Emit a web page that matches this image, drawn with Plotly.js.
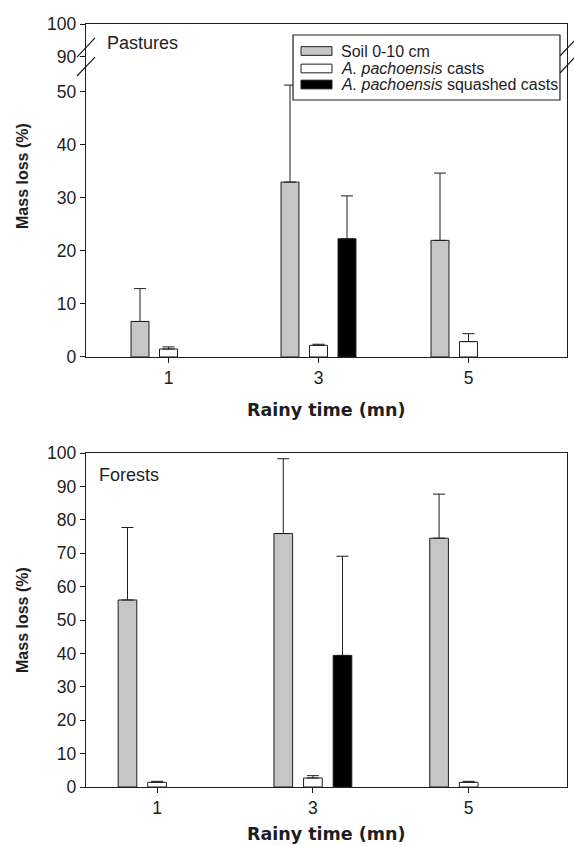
<!DOCTYPE html>
<html>
<head>
<meta charset="utf-8">
<script src="https://cdn.plot.ly/plotly-3.0.1.min.js"></script>
<style>html,body{margin:0;padding:0;background:#fff;}#chart{width:574px;height:846px;}</style>
</head>
<body>
<div id="chart"></div>
<script>
// ---- data ----
const categories = ['1', '3', '5'];
const seriesNames = ['Soil 0-10 cm', '<i>A. pachoensis</i> casts', '<i>A. pachoensis</i> squashed casts'];

// Pastures (top panel)
const pastSoil = [6.7, 33.0, 22.0];
const pastSoilSD = [6.2, 18.3, 12.7];
const pastCasts = [1.5, 2.2, 2.9];
const pastCastsSD = [0.4, 0.2, 1.5];
const pastSquashed = [null, 22.3, null];
const pastSquashedSD = [0, 8.1, 0];

// Forests (bottom panel)
const forSoil = [56.0, 75.9, 74.5];
const forSoilSD = [21.7, 22.4, 13.2];
const forCasts = [1.4, 2.7, 1.4];
const forCastsSD = [0.3, 0.7, 0.3];
const forSquashed = [null, 39.4, null];
const forSquashedSD = [0, 29.7, 0];

// tick values
const lowerTicks = [0, 10, 20, 30, 40, 50];
const upperTicks = [90, 100];
const forestTicks = [0, 10, 20, 30, 40, 50, 60, 70, 80, 90, 100];

const panelLabels = ['Pastures', 'Forests'];
const xTitle = 'Rainy time (mn)';
const yTitle = 'Mass loss (%)';

// ---- styles ----
const FONT = 'Liberation Sans, Arial, Helvetica, sans-serif';
const TITLEFONT = 'DejaVu Sans, Liberation Sans, Arial, sans-serif';
const INK = '#1e1e1e';
const fills = ['#c6c6c6', '#ffffff', '#000000'];
const zeros = arr => arr.map(() => 0);

function barTrace(y, sd, idx, xa, ya) {
  return {
    type: 'bar', x: categories, y: y, name: seriesNames[idx],
    xaxis: xa, yaxis: ya, showlegend: false,
    marker: {color: fills[idx], line: {color: INK, width: 1}},
    error_y: {type: 'data', symmetric: false, array: sd, arrayminus: zeros(sd),
              color: INK, thickness: 1, width: 6},
    hoverinfo: 'skip'
  };
}

const traces = [
  barTrace(pastSoil, pastSoilSD, 0, 'x', 'y'),
  barTrace(pastCasts, pastCastsSD, 1, 'x', 'y'),
  barTrace(pastSquashed, pastSquashedSD, 2, 'x', 'y'),
  barTrace(forSoil, forSoilSD, 0, 'x3', 'y3'),
  barTrace(forCasts, forCastsSD, 1, 'x3', 'y3'),
  barTrace(forSquashed, forSquashedSD, 2, 'x3', 'y3'),
  {type: 'scatter', x: [], y: [], xaxis: 'x2', yaxis: 'y2', showlegend: false, hoverinfo: 'skip'}
];

const axisCommon = {
  showline: true, linecolor: INK, linewidth: 1.2,
  ticks: 'outside', ticklen: 5, tickwidth: 1, tickcolor: INK,
  showgrid: false, zeroline: false,
  tickfont: {family: FONT, size: 17.5, color: INK}, fixedrange: true
};

// legend drawn as a key box in the top panel (paper coordinates)
const legendRows = [0.9646, 0.9417, 0.9207];
const legendShapes = [
  {type: 'rect', xref: 'paper', yref: 'paper', x0: 0.4304, x1: 0.9854, y0: 0.9004, y1: 0.9856,
   fillcolor: '#ffffff', line: {color: INK, width: 1.2}, layer: 'above'}
];
const legendAnnots = [];
legendRows.forEach((yc, i) => {
  legendShapes.push({type: 'rect', xref: 'paper', yref: 'paper', x0: 0.4470, x1: 0.5114,
    y0: yc - 0.0057, y1: yc + 0.0057, fillcolor: fills[i], line: {color: INK, width: 1}, layer: 'above'});
  legendAnnots.push({text: seriesNames[i], xref: 'paper', yref: 'paper', x: 0.5260, y: yc,
    xanchor: 'left', yanchor: 'middle', showarrow: false,
    font: {family: FONT, size: 16, color: INK}});
});

const layout = {
  width: 574, height: 846,
  margin: {l: 86, r: 7, t: 24, b: 59},
  paper_bgcolor: '#ffffff', plot_bgcolor: 'rgba(0,0,0,0)',
  barmode: 'group', bargap: 0.43, bargroupgap: 0.37,
  font: {family: FONT, size: 16, color: INK},
  showlegend: false,
  // top panel, lower segment
  xaxis: Object.assign({}, axisCommon, {
    anchor: 'y', type: 'category', categoryorder: 'array', categoryarray: categories,
    range: [-0.55, 2.6567], mirror: false
  }),
  yaxis: Object.assign({}, axisCommon, {
    anchor: 'x', domain: [0.5636, 0.9502], range: [0, 55.66],
    tickvals: lowerTicks, mirror: true
  }),
  // top panel, upper segment (broken axis)
  xaxis2: Object.assign({}, axisCommon, {
    anchor: 'y2', matches: 'x', type: 'category', side: 'top',
    ticks: '', showticklabels: false, mirror: false
  }),
  yaxis2: Object.assign({}, axisCommon, {
    anchor: 'x2', domain: [0.9502, 1.0], range: [88.48, 100],
    tickvals: upperTicks, mirror: true
  }),
  // bottom panel
  xaxis3: Object.assign({}, axisCommon, {
    anchor: 'y3', type: 'category', categoryorder: 'array', categoryarray: categories,
    range: [-0.4563, 2.631], mirror: true
  }),
  yaxis3: Object.assign({}, axisCommon, {
    anchor: 'x3', domain: [0, 0.4377], range: [0, 100],
    tickvals: forestTicks, mirror: true
  }),
  annotations: [
    {text: panelLabels[0], xref: 'paper', yref: 'paper', x: 0.0395, y: 0.9751,
     xanchor: 'left', yanchor: 'middle', showarrow: false, font: {family: FONT, size: 18, color: INK}},
    {text: panelLabels[1], xref: 'paper', yref: 'paper', x: 0.0229, y: 0.4089,
     xanchor: 'left', yanchor: 'middle', showarrow: false, font: {family: FONT, size: 18, color: INK}},
    {text: '<b>' + yTitle + '</b>', xref: 'paper', yref: 'paper', x: -0.131, y: 0.8008,
     xanchor: 'center', yanchor: 'middle', textangle: -90, showarrow: false,
     font: {family: FONT, size: 16, color: INK}},
    {text: '<b>' + yTitle + '</b>', xref: 'paper', yref: 'paper', x: -0.131, y: 0.2189,
     xanchor: 'center', yanchor: 'middle', textangle: -90, showarrow: false,
     font: {family: FONT, size: 16, color: INK}},
    {text: '<b>' + xTitle + '</b>', xref: 'paper', yref: 'paper', x: 0.5, y: 0.4941,
     xanchor: 'center', yanchor: 'middle', showarrow: false,
     font: {family: TITLEFONT, size: 17.5, color: INK}},
    {text: '<b>' + xTitle + '</b>', xref: 'paper', yref: 'paper', x: 0.5, y: -0.0616,
     xanchor: 'center', yanchor: 'middle', showarrow: false,
     font: {family: TITLEFONT, size: 17.5, color: INK}}
  ].concat(legendAnnots),
  shapes: [
    // axis-break slashes (left)
    {type: 'line', xref: 'paper', yref: 'paper', x0: -0.0187, y0: 0.9567, x1: 0.0187, y1: 0.9817, line: {color: INK, width: 1.2}},
    {type: 'line', xref: 'paper', yref: 'paper', x0: -0.0187, y0: 0.9318, x1: 0.0187, y1: 0.9567, line: {color: INK, width: 1.2}},
    // axis-break slashes (right)
    {type: 'line', xref: 'paper', yref: 'paper', x0: 0.9854, y0: 0.9581, x1: 1.0187, y1: 0.9803, line: {color: INK, width: 1.2}},
    {type: 'line', xref: 'paper', yref: 'paper', x0: 0.9854, y0: 0.9358, x1: 1.0187, y1: 0.9581, line: {color: INK, width: 1.2}}
  ].concat(legendShapes)
};

Plotly.newPlot('chart', traces, layout, {staticPlot: true, displayModeBar: false});
</script>
</body>
</html>
